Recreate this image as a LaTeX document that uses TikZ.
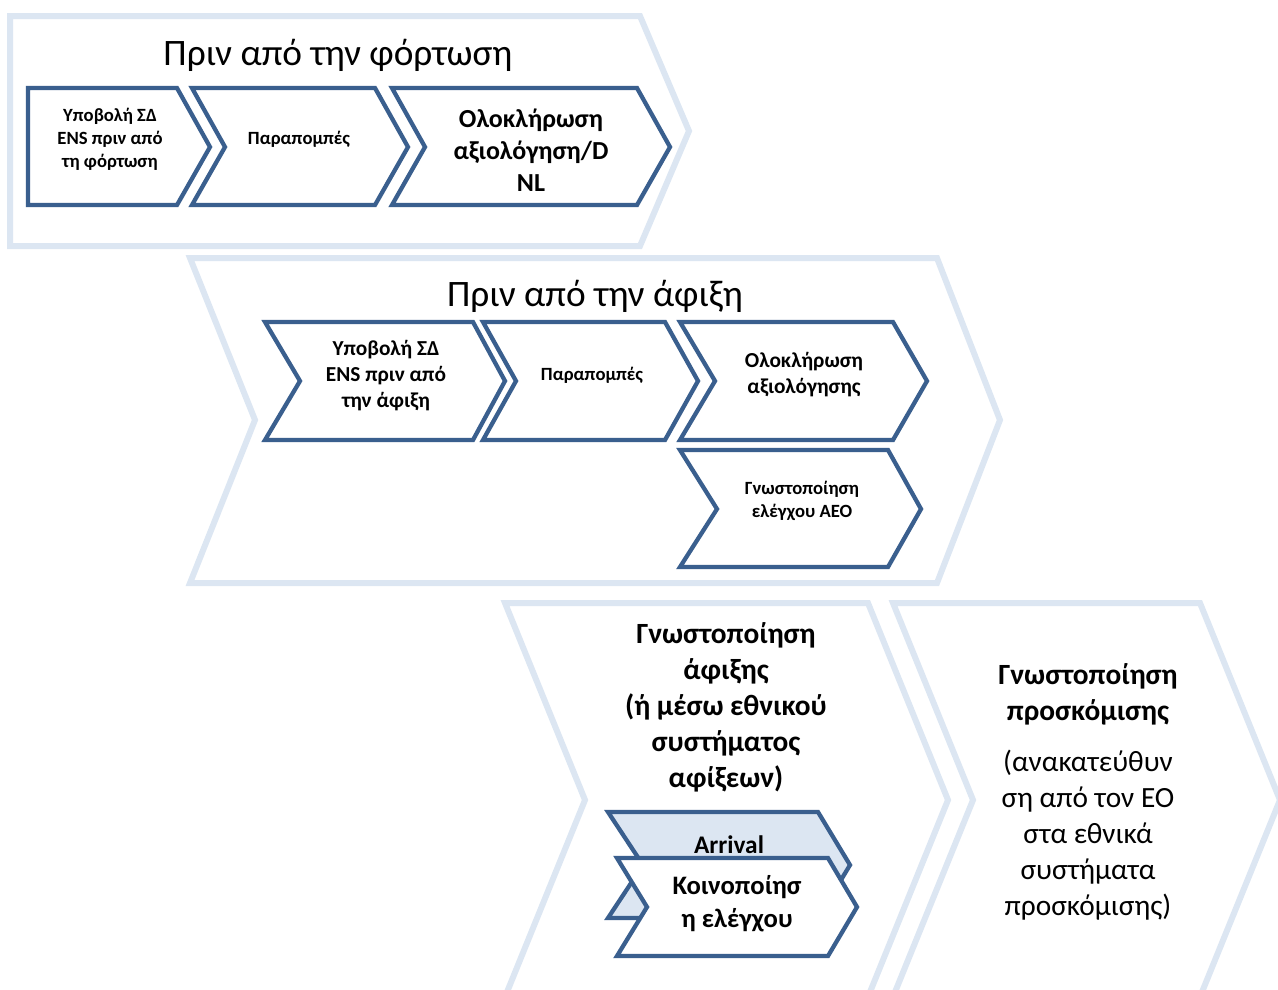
\documentclass[tikz,border=0pt]{standalone}
\usepackage{fontspec}
\setmainfont{Carlito}
\definecolor{dk}{HTML}{3A5F8E}
\definecolor{lt}{HTML}{DCE6F2}
\tikzset{
  big/.style={draw=lt, line width=4.5pt, fill=white},
  small/.style={draw=dk, line width=3.2pt, fill=white},
  smallfill/.style={draw=dk, line width=3.2pt, fill=lt},
  lbl/.style={align=center, inner sep=0pt, text=black},
  ttl/.style={lbl, font=\fontsize{28}{33}\selectfont},
  fa/.style={lbl, font=\fontsize{14}{17.2}\selectfont\bfseries},
  fb/.style={lbl, font=\fontsize{16}{19.5}\selectfont\bfseries},
  fc/.style={lbl, font=\fontsize{19.5}{24}\selectfont\bfseries},
  fd/.style={lbl, font=\fontsize{22}{27}\selectfont\bfseries},
  fe/.style={lbl, font=\fontsize{22}{27}\selectfont},
  ff/.style={lbl, font=\fontsize{20}{24.7}\selectfont\bfseries},
  fg/.style={lbl, font=\fontsize{19}{23}\selectfont\bfseries},
}
\begin{document}
\begin{tikzpicture}[x=0.75pt, y=-0.75pt]
\useasboundingbox (0,0) rectangle (1278,989);
% row 1
\draw[big] (10,16) -- (640,16) -- (689,131) -- (640,246) -- (10,246) -- cycle;
\draw[small] (28,88) -- (177,88) -- (210,147) -- (177,205) -- (28,205) -- cycle;
\draw[small] (192,88) -- (375,88) -- (408,147) -- (375,205) -- (192,205) -- (225,147) -- cycle;
\draw[small] (392,88) -- (637,88) -- (670,147) -- (637,205) -- (392,205) -- (425,147) -- cycle;
\node[ttl] (t1) at (338,55) {Πριν από την φόρτωση};
\node[fa] (n11) at (110,139) {Υποβολή ΣΔ\\ENS πριν από\\τη φόρτωση};
\node[fa] (n12) at (299,139) {Παραπομπές};
\node[fc] (n13) at (531,150) {Ολοκλήρωση\\αξιολόγηση/D\\NL};
% row 2
\draw[big] (190,258) -- (937,258) -- (1000,420) -- (937,583) -- (190,583) -- (255,420) -- cycle;
\draw[small] (265,322) -- (473,322) -- (505,381) -- (473,440) -- (265,440) -- (300,381) -- cycle;
\draw[small] (483,322) -- (665,322) -- (698,381) -- (665,440) -- (483,440) -- (516,381) -- cycle;
\draw[small] (680,322) -- (893,322) -- (927,381) -- (893,440) -- (680,440) -- (715,381) -- cycle;
\draw[small] (680,450) -- (888,450) -- (921,509) -- (888,567) -- (680,567) -- (717,509) -- cycle;
\node[ttl] (t2) at (595,296) {Πριν από την άφιξη};
\node[fb] (n21) at (386,376) {Υποβολή ΣΔ\\ENS πριν από\\την άφιξη};
\node[fa] (n22) at (592,375) {Παραπομπές};
\node[fb] (n23) at (804,375) {Ολοκλήρωση\\αξιολόγησης};
\node[fa] (n24) at (802,501) {Γνωστοποίηση\\ελέγχου AEO};
% row 3
\draw[big] (505,603) -- (868,603) -- (948,800) -- (868,997) -- (505,997) -- (585,800) -- cycle;
\draw[big] (893,603) -- (1200,603) -- (1280,800) -- (1200,997) -- (893,997) -- (973,800) -- cycle;
\node[fd] (n31) at (726,707) {Γνωστοποίηση\\άφιξης\\(ή μέσω εθνικού\\συστήματος\\αφίξεων)};
\node[fd] (n41) at (1088,694) {Γνωστοποίηση\\προσκόμισης};
\node[fe] (n42) at (1088,835) {(ανακατεύθυν\\ση από τον EO\\στα εθνικά\\συστήματα\\προσκόμισης)};
\draw[smallfill] (608,812) -- (818,812) -- (850,865) -- (818,918) -- (608,918) -- (643,865) -- cycle;
\node[fg] (arr) at (729,845) {Arrival};
\draw[small] (617,858) -- (828,858) -- (857,907) -- (828,956) -- (617,956) -- (647,907) -- cycle;
\node[ff] (koin) at (737,904) {Κοινοποίησ\\η ελέγχου};
\end{tikzpicture}
\end{document}
